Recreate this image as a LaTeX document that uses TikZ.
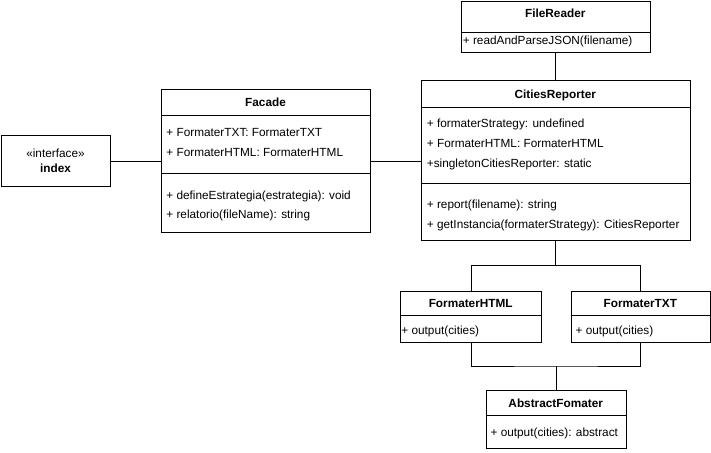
\documentclass[tikz,border=0pt]{standalone}
\usepackage{fontspec}
\setmainfont{Liberation Sans}

\begin{document}
\begin{tikzpicture}[x=1pt,y=-1pt,line width=0.8pt,box/.style={draw,anchor=north west,inner sep=0pt},title/.style={font=\fontsize{11.8}{14}\selectfont\bfseries,inner sep=0pt,text height=8.6pt,text depth=0pt},member/.style={font=\fontsize{11.8}{14}\selectfont,anchor=west,inner sep=0pt,text height=8.6pt,text depth=0pt}]
    \useasboundingbox (0,0) rectangle (711,452);
    \node[box,minimum width=109pt,minimum height=51pt] (index) at (1,135) {};
    \node[box,minimum width=209pt,minimum height=142.4pt] (facade) at (161,89.3) {};
    \node[box,minimum width=189.3pt,minimum height=51pt] (filereader) at (460.7,0.7) {};
    \node[box,minimum width=269.3pt,minimum height=160pt] (reporter) at (420.7,80) {};
    \node[box,minimum width=141.3pt,minimum height=51pt] (fhtml) at (400,290.7) {};
    \node[box,minimum width=139.3pt,minimum height=51pt] (ftxt) at (570.7,290.7) {};
    \node[box,minimum width=140pt,minimum height=58.3pt] (abstract) at (485.7,390) {};
    \draw ([yshift=-25.7pt]facade.north west) -- ([yshift=-25.7pt]facade.north east);
    \draw ([yshift=-84pt]facade.north west) -- ([yshift=-84pt]facade.north east);
    \draw ([yshift=-31.6pt]filereader.north west) -- ([yshift=-31.6pt]filereader.north east);
    \draw ([yshift=-27.3pt]reporter.north west) -- ([yshift=-27.3pt]reporter.north east);
    \draw ([yshift=-103.3pt]reporter.north west) -- ([yshift=-103.3pt]reporter.north east);
    \draw ([yshift=-25pt]fhtml.north west) -- ([yshift=-25pt]fhtml.north east);
    \draw ([yshift=-25pt]ftxt.north west) -- ([yshift=-25pt]ftxt.north east);
    \draw ([yshift=-25.7pt]abstract.north west) -- ([yshift=-25.7pt]abstract.north east);
    \node[member,anchor=center] (stereo) at (55.5,152.7) {«interface»};
    \node[title] (indexname) at (55.5,168) {index};
    \node[title] (facadename) at (265.5,102.3) {Facade};
    \node[member] (fa1) at (166,132.3) {+ FormaterTXT: FormaterTXT};
    \node[member] (fa2) at (166,152.3) {+ FormaterHTML: FormaterHTML};
    \node[member] (fm1) at (166,195) {+ defineEstrategia(estrategia): void};
    \node[member] (fm2) at (166,214.3) {+ relatorio(fileName): string};
    \node[title] (readername) at (555.3,13.3) {FileReader};
    \node[member] (rm1) at (462.5,40.7) {+ readAndParseJSON(filename)};
    \node[title] (reportername) at (555.3,94.3) {CitiesReporter};
    \node[member] (ca1) at (426.5,123.3) {+ formaterStrategy: undefined};
    \node[member] (ca2) at (426.5,143.3) {+ FormaterHTML: FormaterHTML};
    \node[member] (ca3) at (426.5,163.3) {+singletonCitiesReporter: static};
    \node[member] (cm1) at (426.5,204) {+ report(filename): string};
    \node[member] (cm2) at (426.5,224) {+ getInstancia(formaterStrategy): CitiesReporter};
    \node[title] (htmlname) at (470.7,303.3) {FormaterHTML};
    \node[member] (hm1) at (401,330) {+ output(cities)};
    \node[title] (txtname) at (640.3,303.3) {FormaterTXT};
    \node[member] (tm1) at (575.2,330) {+ output(cities)};
    \node[title] (abstractname) at (555.7,403.3) {AbstractFomater};
    \node[member] (am1) at (490.2,431.7) {+ output(cities): abstract};
    \path (reporter.south) ++(0,25) coordinate (upper);
    \path (abstract.north) ++(0,-24) coordinate (lower);
    \draw (index) -- (facade);
    \draw (facade.east) -- (facade.east -| reporter.west);
    \draw (filereader) -- (reporter);
    \draw (reporter.south) -- (upper) -| (fhtml.north);
    \draw (upper) -| (ftxt.north);
    \draw (fhtml.south) |- (lower) -| (ftxt.south);
    \draw (lower) -- (abstract.north);
\end{tikzpicture}
\end{document}
